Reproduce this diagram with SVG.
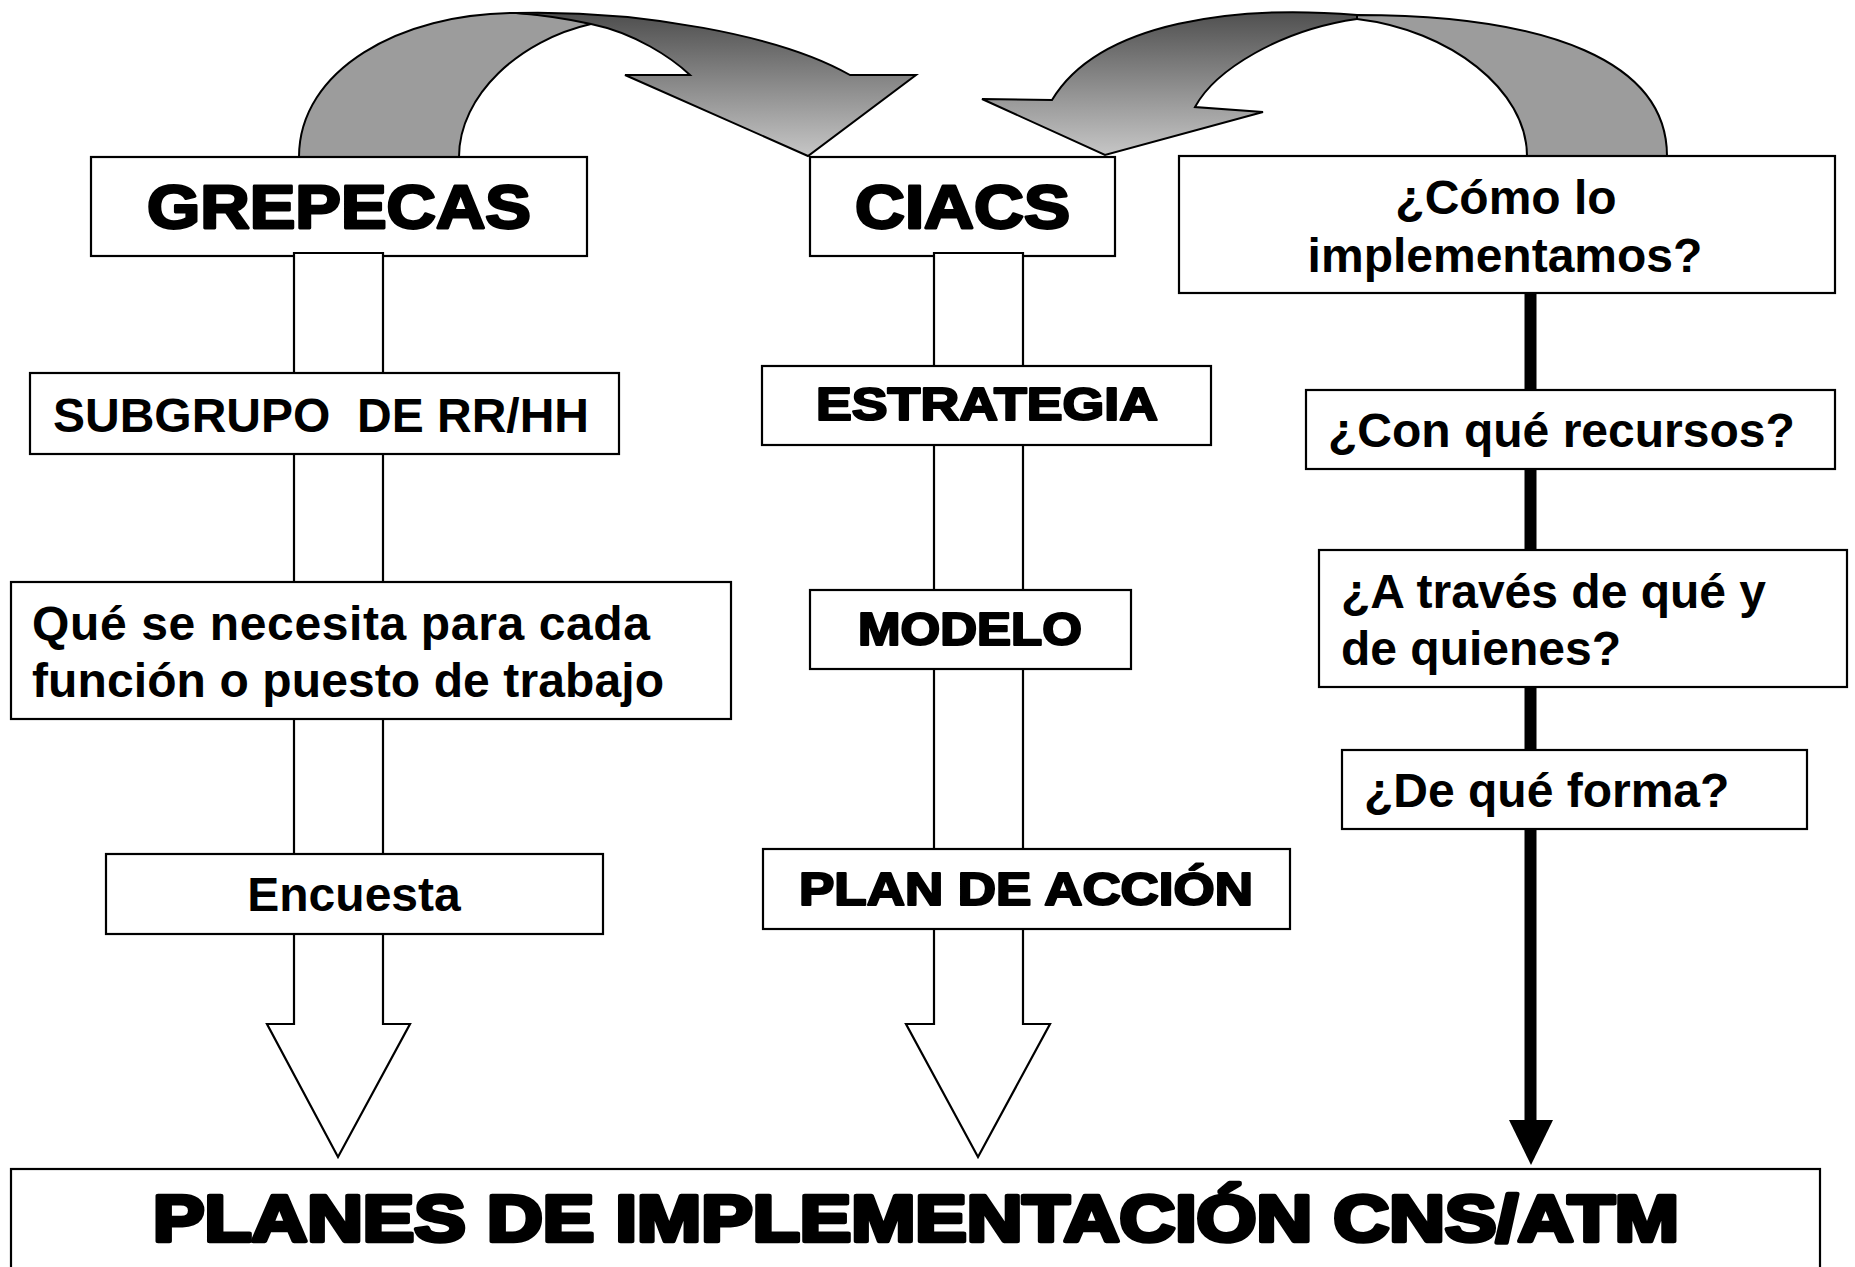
<svg xmlns="http://www.w3.org/2000/svg" width="1855" height="1267" viewBox="0 0 1855 1267">
<style>
.box{fill:#fff;stroke:#000;stroke-width:2.2}
.shaft{fill:#fff;stroke:#000;stroke-width:2.2;stroke-linejoin:miter}
.curve{stroke:#000;stroke-width:2;stroke-linejoin:miter}
.t{font-family:"Liberation Sans",Arial,sans-serif;font-weight:bold;font-size:48px;fill:#000}
.h{font-family:"Liberation Sans",Arial,sans-serif;font-weight:bold;fill:#000;stroke:#000;stroke-linejoin:round}
</style>
<defs>
<linearGradient id="gL" x1="0" y1="13" x2="0" y2="156" gradientUnits="userSpaceOnUse">
<stop offset="0" stop-color="#4e4e4e"/><stop offset="1" stop-color="#c6c6c6"/>
</linearGradient>
<linearGradient id="gR" x1="0" y1="10" x2="0" y2="155" gradientUnits="userSpaceOnUse">
<stop offset="0" stop-color="#4e4e4e"/><stop offset="1" stop-color="#c6c6c6"/>
</linearGradient>
</defs>
<rect width="1855" height="1267" fill="#fff"/>

<g id="connectors">
<g id="curve-left">
<path class="curve" fill="#9c9c9c" d="M299,157 C299,70 400,13 516,13 Q560,15 591,24 C520,40 459,95 459,157 Z"/>
<path class="curve" fill="url(#gL)" d="M516,13 C640,10 780,35 850,75 L916,75 L808,156 L625,75 L690,75 C672,58 635,33 591,24 Q555,16 516,13 Z"/>
</g>
<g id="curve-right">
<path class="curve" fill="#9c9c9c" d="M1667,156 C1667,62 1550,15 1357,15 L1357,19 C1450,30 1527,90 1527,156 Z"/>
<path class="curve" fill="url(#gR)" d="M1357,15 C1240,5 1100,20 1052,100 L982,99 L1105,155 L1263,112 L1195,107 C1215,70 1280,30 1357,19 Z"/>
</g>
</g>

<g id="n-grepecas">
<rect class="box" x="91" y="157" width="496" height="99"/>
<text class="h" x="147" y="228" font-size="62" stroke-width="2.8" textLength="384" lengthAdjust="spacingAndGlyphs">GREPECAS</text>
</g>
<g id="n-ciacs">
<rect class="box" x="810" y="157" width="305" height="99"/>
<text class="h" x="855" y="228" font-size="62" stroke-width="2.8" textLength="215" lengthAdjust="spacingAndGlyphs">CIACS</text>
</g>

<g id="connectors-down">
<path id="arrow-left" class="shaft" d="M294,253 L383,253 L383,1024 L410,1024 L338,1157 L267,1024 L294,1024 Z"/>
<path id="arrow-mid" class="shaft" d="M934,253 L1023,253 L1023,1024 L1050,1024 L978,1157 L906,1024 L934,1024 Z"/>
<g id="arrow-right">
<line x1="1530.5" y1="293" x2="1530.5" y2="1122" stroke="#000" stroke-width="12"/>
<polygon points="1509,1120 1553,1120 1531,1165" fill="#000"/>
</g>
</g>

<g id="n-subgrupo">
<rect class="box" x="30" y="373" width="589" height="81"/>
<text class="t" x="53" y="432" xml:space="preserve" textLength="536" lengthAdjust="spacingAndGlyphs">SUBGRUPO  DE RR/HH</text>
</g>
<g id="n-que">
<rect class="box" x="11" y="582" width="720" height="137"/>
<text class="t" x="32" y="640" textLength="618" lengthAdjust="spacing">Qué se necesita para cada</text>
<text class="t" x="32" y="697" textLength="632" lengthAdjust="spacing">función o puesto de trabajo</text>
</g>
<g id="n-encuesta">
<rect class="box" x="106" y="854" width="497" height="80"/>
<text class="t" x="354" y="911" text-anchor="middle">Encuesta</text>
</g>

<g id="n-estrategia">
<rect class="box" x="762" y="366" width="449" height="79"/>
<text class="h" x="816" y="420" font-size="46" stroke-width="2.2" textLength="342" lengthAdjust="spacingAndGlyphs">ESTRATEGIA</text>
</g>
<g id="n-modelo">
<rect class="box" x="810" y="590" width="321" height="79"/>
<text class="h" x="858" y="645" font-size="46" stroke-width="2.2" textLength="224" lengthAdjust="spacingAndGlyphs">MODELO</text>
</g>
<g id="n-plan">
<rect class="box" x="763" y="849" width="527" height="80"/>
<text class="h" x="799" y="905" font-size="46" stroke-width="2.2" textLength="454" lengthAdjust="spacingAndGlyphs">PLAN DE ACCIÓN</text>
</g>

<g id="n-como">
<rect class="box" x="1179" y="156" width="656" height="137"/>
<text class="t" x="1506" y="214" text-anchor="middle">¿Cómo lo</text>
<text class="t" x="1505" y="272" text-anchor="middle">implementamos?</text>
</g>
<g id="n-recursos">
<rect class="box" x="1306" y="390" width="529" height="79"/>
<text class="t" x="1328" y="447">¿Con qué recursos?</text>
</g>
<g id="n-traves">
<rect class="box" x="1319" y="550" width="528" height="137"/>
<text class="t" x="1341" y="608">¿A través de qué y</text>
<text class="t" x="1341" y="665">de quienes?</text>
</g>
<g id="n-forma">
<rect class="box" x="1342" y="750" width="465" height="79"/>
<text class="t" x="1364" y="807">¿De qué forma?</text>
</g>

<g id="n-planes">
<rect class="box" x="11" y="1169" width="1809" height="120"/>
<text class="h" x="153" y="1241" font-size="65" stroke-width="4.5" textLength="1526" lengthAdjust="spacingAndGlyphs">PLANES DE IMPLEMENTACIÓN CNS/ATM</text>
</g>
</svg>
